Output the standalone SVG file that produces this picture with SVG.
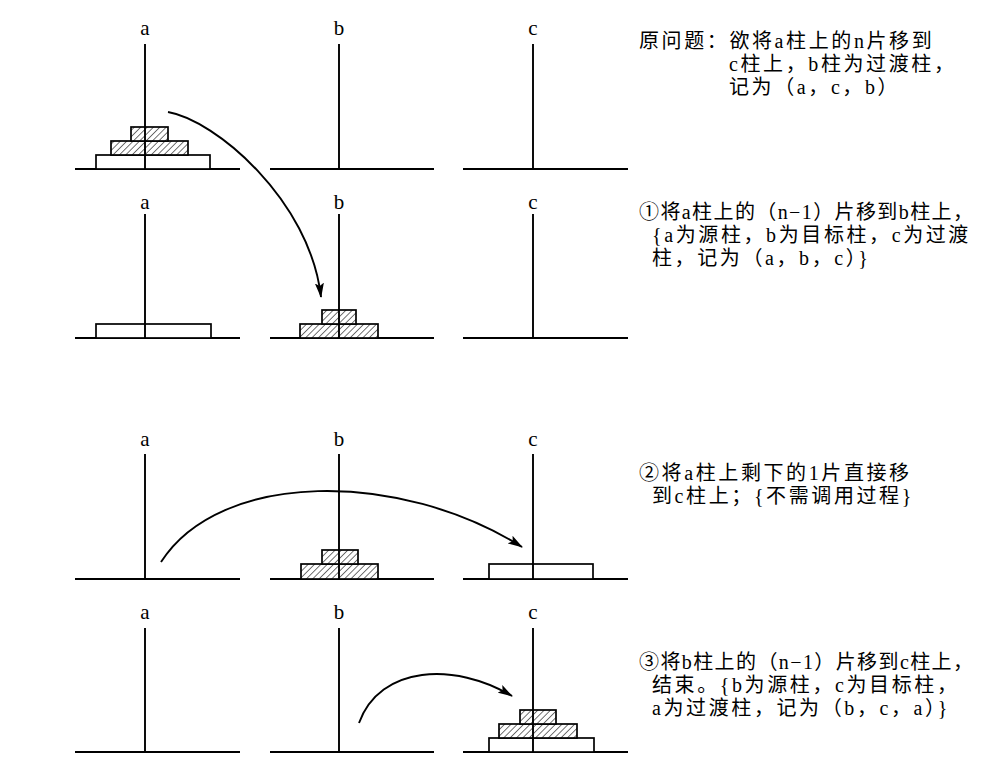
<svg xmlns="http://www.w3.org/2000/svg" width="993" height="765" viewBox="0 0 993 765">
<style>
  .peg{stroke:#000;stroke-width:1.9;fill:none}
  .ground{stroke:#000;stroke-width:2.1;fill:none}
  .disk{stroke:#000;stroke-width:1.7;fill:#fff}
  .hd{stroke:#000;stroke-width:1.7;fill:url(#hatch)}
  .lbl{font-family:"Liberation Serif","Noto Sans CJK SC",serif;font-size:21px;text-anchor:middle;fill:#000}
  .txt{font-family:"Liberation Serif","Noto Sans CJK SC",serif;font-size:20px;letter-spacing:2.6px;fill:#000}
  .tight{letter-spacing:1.4px}
  .arr{stroke:#000;stroke-width:1.9;fill:none;marker-end:url(#ah)}
</style>
<defs>
  <pattern id="hatch" patternUnits="userSpaceOnUse" width="4.5" height="4.5" patternTransform="rotate(45)">
    <rect width="4.5" height="4.5" fill="#fff"/>
    <line x1="0" y1="0" x2="0" y2="4.5" stroke="#000" stroke-width="1.1"/>
  </pattern>
  <marker id="ah" markerUnits="userSpaceOnUse" markerWidth="15" markerHeight="9" refX="14" refY="4.5" orient="auto">
    <path d="M0,0 L15,4.5 L0,9 L3,4.5 z" fill="#000"/>
  </marker>
</defs>
<rect width="993" height="765" fill="#fff"/>

<g id="panel0">
  <line class="ground" x1="75" y1="169" x2="240" y2="169"/>
  <line class="ground" x1="270" y1="169" x2="434" y2="169"/>
  <line class="ground" x1="463" y1="169" x2="628" y2="169"/>
  <rect class="disk" x="96" y="155" width="114" height="14"/>
  <rect class="hd" x="111" y="141" width="77" height="14"/>
  <rect class="hd" x="131" y="127" width="37" height="14"/>
  <line class="peg" x1="145" y1="44" x2="145" y2="169"/>
  <line class="peg" x1="339" y1="44" x2="339" y2="169"/>
  <line class="peg" x1="533" y1="44" x2="533" y2="169"/>
  <text class="lbl" x="145" y="35">a</text>
  <text class="lbl" x="339" y="35">b</text>
  <text class="lbl" x="533" y="35">c</text>
  <text class="txt" x="639" y="48">原问题：欲将a柱上的n片移到</text>
  <text class="txt" x="729" y="71">c柱上，b柱为过渡柱，</text>
  <text class="txt" x="729" y="94">记为（a，c，b）</text>
</g>

<g id="panel1">
  <line class="ground" x1="75" y1="338" x2="240" y2="338"/>
  <line class="ground" x1="270" y1="338" x2="434" y2="338"/>
  <line class="ground" x1="463" y1="338" x2="628" y2="338"/>
  <rect class="disk" x="96" y="324" width="115" height="14"/>
  <rect class="hd" x="300" y="324" width="78" height="14"/>
  <rect class="hd" x="322" y="310" width="34" height="14"/>
  <line class="peg" x1="145" y1="214" x2="145" y2="338"/>
  <line class="peg" x1="339" y1="214" x2="339" y2="338"/>
  <line class="peg" x1="533" y1="214" x2="533" y2="338"/>
  <text class="lbl" x="145" y="209">a</text>
  <text class="lbl" x="339" y="209">b</text>
  <text class="lbl" x="533" y="209">c</text>
  <text class="txt tight" x="639" y="219">①将a柱上的（n−1）片移到b柱上，</text>
  <text class="txt" x="652" y="242">{a为源柱，b为目标柱，c为过渡</text>
  <text class="txt" x="652" y="265">柱，记为（a，b，c）}</text>
</g>

<g id="panel2">
  <line class="ground" x1="75" y1="579" x2="240" y2="579"/>
  <line class="ground" x1="270" y1="579" x2="434" y2="579"/>
  <line class="ground" x1="463" y1="579" x2="628" y2="579"/>
  <rect class="hd" x="301" y="564" width="77" height="15"/>
  <rect class="hd" x="322" y="550" width="36" height="14"/>
  <rect class="disk" x="489" y="564" width="104" height="15"/>
  <line class="peg" x1="145" y1="454" x2="145" y2="579"/>
  <line class="peg" x1="339" y1="454" x2="339" y2="579"/>
  <line class="peg" x1="533" y1="454" x2="533" y2="579"/>
  <text class="lbl" x="145" y="446">a</text>
  <text class="lbl" x="339" y="446">b</text>
  <text class="lbl" x="533" y="446">c</text>
  <text class="txt" x="639" y="480">②将a柱上剩下的1片直接移</text>
  <text class="txt" x="652" y="503">到c柱上；{不需调用过程}</text>
</g>

<g id="panel3">
  <line class="ground" x1="75" y1="752" x2="240" y2="752"/>
  <line class="ground" x1="270" y1="752" x2="434" y2="752"/>
  <line class="ground" x1="463" y1="752" x2="628" y2="752"/>
  <rect class="disk" x="489" y="738" width="105" height="14"/>
  <rect class="hd" x="499" y="724" width="78" height="14"/>
  <rect class="hd" x="520" y="710" width="36" height="14"/>
  <line class="peg" x1="145" y1="628" x2="145" y2="752"/>
  <line class="peg" x1="339" y1="628" x2="339" y2="752"/>
  <line class="peg" x1="533" y1="628" x2="533" y2="752"/>
  <text class="lbl" x="145" y="619">a</text>
  <text class="lbl" x="339" y="619">b</text>
  <text class="lbl" x="533" y="619">c</text>
  <text class="txt tight" x="639" y="669">③将b柱上的（n−1）片移到c柱上，</text>
  <text class="txt" x="652" y="692">结束。{b为源柱，c为目标柱，</text>
  <text class="txt" x="652" y="715">a为过渡柱，记为（b，c，a）}</text>
</g>

<g id="connectors">
  <path class="arr" d="M168,112 C215,120 310,200 321,297"/>
  <path class="arr" d="M161,562 C220,470 400,470 522,547"/>
  <path class="arr" d="M359,723 C380,665 455,662 512,696"/>
</g>
</svg>
